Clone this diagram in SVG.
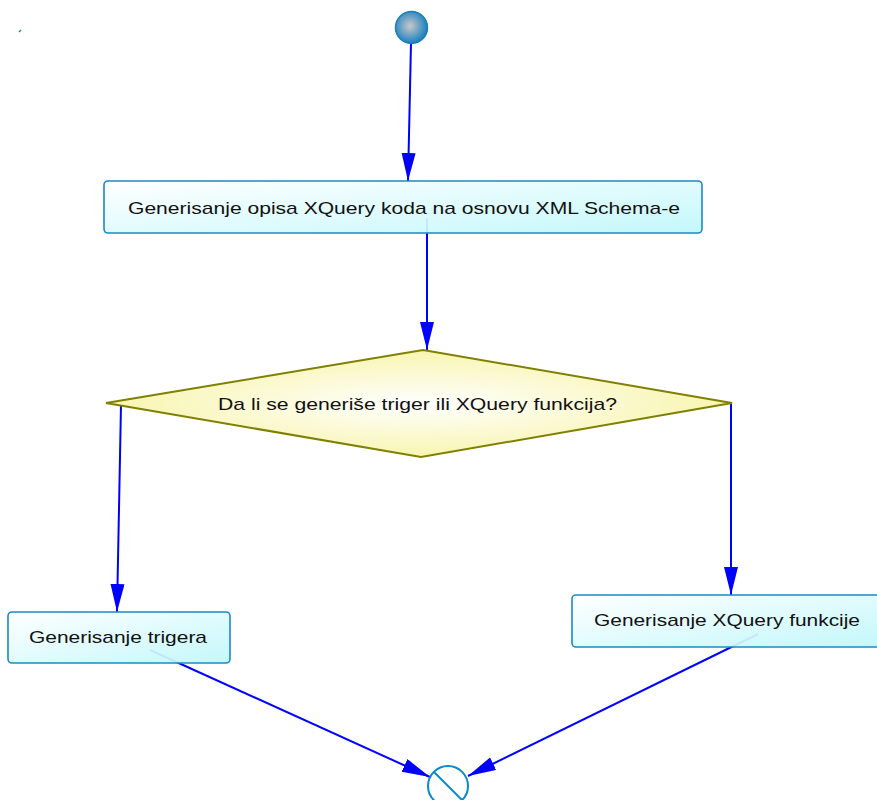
<svg xmlns="http://www.w3.org/2000/svg" width="877" height="800" viewBox="0 0 877 800">
<style>
.box{stroke:#1b8ac4;stroke-width:1.6;fill:url(#boxg);fill-opacity:0.93}
.lbl{font-family:"Liberation Sans",Arial,sans-serif;font-size:17px;fill:#111}
.edge{stroke:#0000ff;stroke-width:2;fill:none;marker-end:url(#arr)}
</style>
<defs>
<linearGradient id="boxg" x1="0" y1="0" x2="1" y2="1">
<stop offset="0" stop-color="#ffffff"/>
<stop offset="1" stop-color="#bff7fb"/>
</linearGradient>
<radialGradient id="dg" cx="0.5" cy="0.5" r="0.5">
<stop offset="0" stop-color="#ffffff"/>
<stop offset="1" stop-color="#f8f5b0"/>
</radialGradient>
<radialGradient id="sg" cx="0.45" cy="0.45" r="0.55">
<stop offset="0" stop-color="#c8c8c8"/>
<stop offset="1" stop-color="#1a80c0"/>
</radialGradient>
<marker id="arr" markerUnits="userSpaceOnUse" markerWidth="30" markerHeight="16" refX="28" refY="7" orient="auto">
<path d="M0,0 L28,7 L0,14 Z" fill="#0000ff"/>
</marker>
</defs>
<g id="connectors">
<path class="edge" d="M411,43 L408,181"/>
<path class="edge" d="M427,218 L427,350"/>
<path class="edge" d="M121,405 L117,612"/>
<path class="edge" d="M731,403 L731,595"/>
<path class="edge" d="M150,650 L430,777"/>
<path class="edge" d="M758,634 L468,776"/>
</g>
<g id="mark"><line x1="19" y1="32" x2="21" y2="30" stroke="#1a80c0" stroke-width="1.5"/></g>
<g id="start"><circle cx="411.5" cy="27.5" r="16" fill="url(#sg)" stroke="#1a7fb8" stroke-width="1.5"/></g>
<g id="n1">
<rect class="box" x="104" y="181" width="598" height="52" rx="4"/>
<text class="lbl" x="128" y="214" textLength="552" lengthAdjust="spacingAndGlyphs">Generisanje opisa XQuery koda na osnovu XML Schema-e</text>
</g>
<g id="decision">
<polygon points="106,403 423,350 732,403 421,457" fill="url(#dg)" stroke="#808000" stroke-width="2"/>
<text class="lbl" x="218" y="410" textLength="399" lengthAdjust="spacingAndGlyphs">Da li se generiše triger ili XQuery funkcija?</text>
</g>
<g id="n2">
<rect class="box" x="8" y="612" width="222" height="51" rx="4"/>
<text class="lbl" x="29" y="643" textLength="178" lengthAdjust="spacingAndGlyphs">Generisanje trigera</text>
</g>
<g id="n3">
<rect class="box" x="572" y="595" width="310" height="52" rx="4"/>
<text class="lbl" x="594" y="626" textLength="266" lengthAdjust="spacingAndGlyphs">Generisanje XQuery funkcije</text>
</g>
<g id="end">
<circle cx="448" cy="786" r="20" fill="#ffffff" stroke="#0a8ac8" stroke-width="2"/>
<line x1="434" y1="772" x2="462" y2="800" stroke="#0a8ac8" stroke-width="2"/>
</g>
</svg>
